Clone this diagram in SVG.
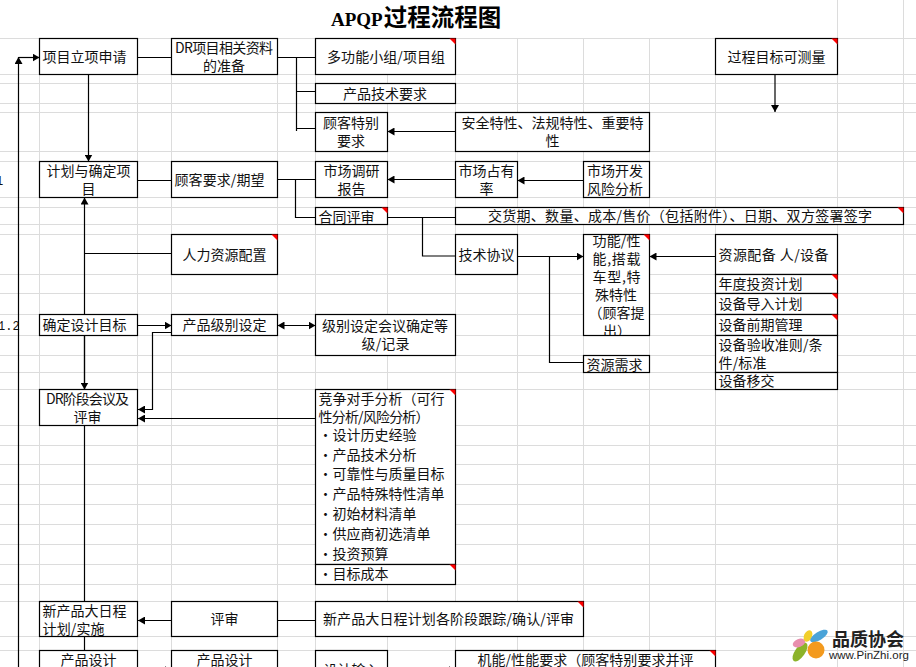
<svg xmlns="http://www.w3.org/2000/svg" width="916" height="667" viewBox="0 0 916 667">
<style>
text{font-family:"Noto Sans CJK SC","Liberation Sans",sans-serif;font-size:14px;fill:#111}
.m{text-anchor:middle}
.title{font-family:"Liberation Serif","Noto Sans CJK SC",serif;font-size:23.500px;font-weight:bold;fill:#000}
.latin{font-family:"Liberation Serif",serif;font-size:19px}
.mono{font-family:"Liberation Mono",monospace;font-size:12px}
.grid{stroke:#dcdcdc;stroke-width:1;fill:none}
.box{fill:#fff;stroke:#000;stroke-width:1.2}
.c{stroke:#000;stroke-width:1.2;fill:none}
.arr{marker-end:url(#a)}
.arrs{marker-start:url(#b);marker-end:url(#a)}
.tri{fill:#f00}
</style>
<defs>
<marker id="a" markerUnits="userSpaceOnUse" markerWidth="8" markerHeight="8" refX="7" refY="4" orient="auto"><path d="M0 0L7 4L0 8Z" fill="#000"/></marker>
<marker id="b" markerUnits="userSpaceOnUse" markerWidth="8" markerHeight="8" refX="0" refY="4" orient="auto"><path d="M7 0L0 4L7 8Z" fill="#000"/></marker>
<clipPath id="clip17"><rect x="584" y="235" width="65" height="100"/></clipPath>
</defs>
<rect width="916" height="667" fill="#fff"/>
<g id="grid" class="grid">
<path d="M39.500 38.500V667M137.500 38.500V667M171.500 38.500V667M277.500 38.500V667M315.500 38.500V667M387.500 38.500V667M455.500 38.500V667M517.500 38.500V667M583.500 38.500V667M649.500 38.500V667M715.500 38.500V667M837.500 0V667M903.500 0V667"/>
<path d="M0 38.500H916M0 74.500H916M0 83.500H916M0 103.500H916M0 112.500H916M0 151.500H916M0 161.500H916M0 197.500H916M0 207.500H916M0 224.500H916M0 234.500H916M0 274.500H916M0 293.500H916M0 314.500H916M0 335.500H916M0 355.500H916M0 372.500H916M0 389.500H916M0 425.500H916M0 445.500H916M0 464.500H916M0 484.500H916M0 504.500H916M0 524.500H916M0 544.500H916M0 564.500H916M0 584.500H916M0 601.500H916M0 636.500H916M0 650.500H916"/>
</g>
<text class="title" x="331" y="26"><tspan class="latin">APQP</tspan><tspan dx="1">过程流程图</tspan></text>
<text class="mono" x="-4" y="185">1</text>
<text class="mono" x="-2" y="330">1.2</text>
<g id="connectors">
<path class="c arr" d="M18.500 667V57"/>
<path class="c arr" d="M18.500 57.500H39.500"/>
<path class="c" d="M137.500 57.500H171.500"/>
<path class="c" d="M277.500 57.500H315.500M296.500 57.500V131M296.500 91.500H315.500M296.500 128.500H315.500"/>
<path class="c arr" d="M88.500 74.500V161.500"/>
<path class="c arr" d="M84.500 601.500V197.500"/>
<path class="c" d="M84.500 253.500H171.500"/>
<path class="c" d="M137.500 180.500H171.500"/>
<path class="c" d="M277.500 179.500H315.500M295.500 179.500V217.500H315.500"/>
<path class="c arr" d="M455.500 131.500H387.500"/>
<path class="c arr" d="M455.500 179.500H387.500"/>
<path class="c arr" d="M583.500 180.500H517.500"/>
<path class="c" d="M387.500 217.500H455.500M422.500 217.500V256H455.500"/>
<path class="c arr" d="M517.500 256.500H583.500"/>
<path class="c" d="M549.500 256.500V362.500H583.500"/>
<path class="c arr" d="M715.500 256.500H649.500"/>
<path class="c arr" d="M775 74.500V112"/>
<path class="c arr" d="M137.500 325.500H171.500"/>
<path class="c arrs" d="M277.500 325.500H315.500"/>
<path class="c arr" d="M84.500 335.500V389.500"/>
<path class="c arr" d="M171.500 332.500H152.500V409.500H138"/>
<path class="c arr" d="M315.500 418.500H138"/>
<path class="c arr" d="M171.500 620.500H138"/>
<path class="c" d="M277.500 620.500H315.500"/>
<path class="c" d="M84.500 636.500V650.500"/>
<path class="c arr" d="M137.500 670H171.500"/>
<path class="c arr" d="M387.500 670H455.500"/>
</g>
<g id="n1"><rect class="box" x="39.500" y="38.500" width="98" height="36"/><text x="42.500" y="62">项目立项申请</text></g>
<g id="n2"><rect class="box" x="171.500" y="38.500" width="106" height="36"/><text x="175" y="53" textLength="98">DR项目相关资料</text><text class="m" x="224" y="71">的准备</text></g>
<g id="n3"><rect class="box" x="315.500" y="38.500" width="140" height="36"/><text x="327" y="62" textLength="118">多功能小组/项目组</text></g>
<g id="n4"><rect class="box" x="315.500" y="83.500" width="140" height="20"/><text class="m" x="385" y="98.500">产品技术要求</text></g>
<g id="n5"><rect class="box" x="315.500" y="112.500" width="72" height="39"/><text class="m" x="351" y="128">顾客特别</text><text class="m" x="351" y="146">要求</text></g>
<g id="n6"><rect class="box" x="455.500" y="112.500" width="194" height="39"/><text class="m" x="552.500" y="128">安全特性、法规特性、重要特</text><text class="m" x="552.500" y="146">性</text></g>
<g id="n7"><rect class="box" x="715.500" y="38.500" width="122" height="36"/><text class="m" x="776.500" y="62">过程目标可测量</text></g>
<g id="n8"><rect class="box" x="39.500" y="161.500" width="98" height="36"/><text class="m" x="88.500" y="176">计划与确定项</text><text class="m" x="88.500" y="194">目</text></g>
<g id="n9"><rect class="box" x="171.500" y="161.500" width="106" height="36"/><text x="174.500" y="185" textLength="90">顾客要求/期望</text></g>
<g id="n10"><rect class="box" x="315.500" y="161.500" width="72" height="36"/><text class="m" x="351.500" y="176">市场调研</text><text class="m" x="351.500" y="194">报告</text></g>
<g id="n11"><rect class="box" x="455.500" y="161.500" width="62" height="36"/><text class="m" x="486.500" y="176">市场占有</text><text class="m" x="486.500" y="194">率</text></g>
<g id="n12"><rect class="box" x="583.500" y="161.500" width="66" height="36"/><text x="587" y="176">市场开发</text><text x="587" y="194">风险分析</text></g>
<g id="n13"><rect class="box" x="315.500" y="207.500" width="72" height="17"/><text x="318.500" y="222">合同评审</text></g>
<g id="n14"><rect class="box" x="455.500" y="207.500" width="448" height="17"/><text x="488" y="221" textLength="384">交货期、数量、成本/售价（包括附件）、日期、双方签署签字</text></g>
<g id="n15"><rect class="box" x="171.500" y="234.500" width="106" height="40"/><text class="m" x="224.500" y="260">人力资源配置</text></g>
<g id="n16"><rect class="box" x="455.500" y="234.500" width="62" height="40"/><text class="m" x="486.500" y="260">技术协议</text></g>
<g id="n17"><rect class="box" x="583.500" y="234.500" width="66" height="101"/><g clip-path="url(#clip17)"><text x="592.500" y="246" textLength="48">功能/性</text><text x="592.500" y="264" textLength="48">能,搭载</text><text x="592.500" y="282" textLength="48">车型,特</text><text class="m" x="616" y="300">殊特性</text><text x="588.500" y="318">（顾客提</text><text x="603" y="336">出）</text></g></g>
<g id="n18"><rect class="box" x="583.500" y="355.500" width="66" height="17"/><text x="586.500" y="370">资源需求</text></g>
<g id="n19"><rect class="box" x="715.500" y="234.500" width="122" height="40"/><text x="718.500" y="260" textLength="110">资源配备 人/设备</text></g>
<g id="n20"><rect class="box" x="715.500" y="274.500" width="122" height="19"/><text x="718.500" y="289">年度投资计划</text></g>
<g id="n21"><rect class="box" x="715.500" y="293.500" width="122" height="21"/><text x="718.500" y="309">设备导入计划</text></g>
<g id="n22"><rect class="box" x="715.500" y="314.500" width="122" height="21"/><text x="718.500" y="330">设备前期管理</text></g>
<g id="n23"><rect class="box" x="715.500" y="335.500" width="122" height="37"/><text x="718.500" y="350" textLength="104">设备验收准则/条</text><text x="718.500" y="368" textLength="48">件/标准</text></g>
<g id="n24"><rect class="box" x="715.500" y="372.500" width="122" height="17"/><text x="718.500" y="386">设备移交</text></g>
<g id="n25"><rect class="box" x="39.500" y="314.500" width="98" height="21"/><text x="42.500" y="330">确定设计目标</text></g>
<g id="n26"><rect class="box" x="171.500" y="314.500" width="106" height="21"/><text class="m" x="224.500" y="330">产品级别设定</text></g>
<g id="n27"><rect class="box" x="315.500" y="314.500" width="140" height="41"/><text class="m" x="385" y="331">级别设定会议确定等</text><text x="361.500" y="349" textLength="48">级/记录</text></g>
<g id="n28"><rect class="box" x="39.500" y="389.500" width="98" height="36"/><text x="46" y="404" textLength="83">DR阶段会议及</text><text class="m" x="87.500" y="422">评审</text></g>
<g id="n29"><rect class="box" x="315.500" y="389.500" width="140" height="175"/><text x="318.500" y="404" textLength="126">竞争对手分析（可行</text><text x="318.500" y="422" textLength="111">性分析/风险分析）</text><text x="318.500" y="440">・设计历史经验</text><text x="318.500" y="460">・产品技术分析</text><text x="318.500" y="479">・可靠性与质量目标</text><text x="318.500" y="499">・产品特殊特性清单</text><text x="318.500" y="519">・初始材料清单</text><text x="318.500" y="539">・供应商初选清单</text><text x="318.500" y="559">・投资预算</text></g>
<g id="n30"><rect class="box" x="315.500" y="564.500" width="140" height="20"/><text x="318.500" y="579">・目标成本</text></g>
<g id="n31"><rect class="box" x="39.500" y="601.500" width="98" height="35"/><text x="42.500" y="616">新产品大日程</text><text x="42.500" y="634" textLength="62">计划/实施</text></g>
<g id="n32"><rect class="box" x="171.500" y="601.500" width="106" height="35"/><text class="m" x="224.500" y="624">评审</text></g>
<g id="n33"><rect class="box" x="315.500" y="601.500" width="268" height="35"/><text x="323" y="624" textLength="251">新产品大日程计划各阶段跟踪/确认/评审</text></g>
<g id="n34"><rect class="box" x="39.500" y="650.500" width="98" height="30"/><text class="m" x="88.500" y="665">产品设计</text></g>
<g id="n35"><rect class="box" x="171.500" y="650.500" width="106" height="30"/><text class="m" x="224.500" y="665">产品设计</text></g>
<g id="n36"><rect class="box" x="315.500" y="650.500" width="72" height="30"/><text class="m" x="351.500" y="675">设计输入</text></g>
<g id="n37"><rect class="box" x="455.500" y="650.500" width="260" height="30"/><text x="477.500" y="665" textLength="216">机能/性能要求（顾客特别要求并评</text></g>
<g id="corners" class="tri">
<path d="M449.500 38.500H455.500V44.500Z"/><path d="M831.500 38.500H837.500V44.500Z"/><path d="M381.500 207.500H387.500V213.500Z"/><path d="M897.500 207.500H903.500V213.500Z"/><path d="M271.500 234.500H277.500V240.500Z"/><path d="M643.500 234.500H649.500V240.500Z"/><path d="M831.500 274.500H837.500V280.500Z"/><path d="M831.500 293.500H837.500V299.500Z"/><path d="M831.500 314.500H837.500V320.500Z"/><path d="M449.500 389.500H455.500V395.500Z"/><path d="M449.500 564.500H455.500V570.500Z"/><path d="M577.500 601.500H583.500V607.500Z"/><path d="M709.500 650.500H715.500V656.500Z"/>
</g>
<g id="logo">
<ellipse cx="800" cy="652" rx="5" ry="11" transform="rotate(35 800 652)" fill="#8cb32a"/>
<ellipse cx="799" cy="643" rx="6.500" ry="4" transform="rotate(-20 799 643)" fill="#e88fae"/>
<ellipse cx="808" cy="636" rx="4" ry="6" transform="rotate(25 808 636)" fill="#f2cf2c"/>
<ellipse cx="819" cy="636" rx="10" ry="4" transform="rotate(-32 819 636)" fill="#4aa3d8"/>
<ellipse cx="816" cy="650" rx="8.500" ry="8.500" fill="#f39a1e"/>
<text x="832" y="646" style="font-size:18px;font-weight:bold;fill:#222">品质协会</text>
<text x="829" y="659" style="font-family:'Liberation Sans',sans-serif;font-size:11.500px;fill:#222">www.PinZhi.org</text>
</g>
</svg>
